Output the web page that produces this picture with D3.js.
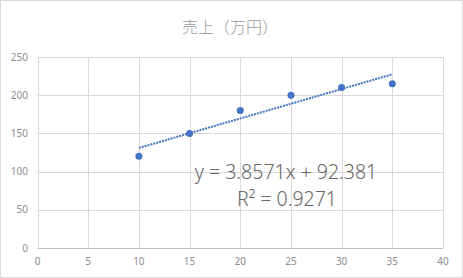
<!DOCTYPE html>
<html>
<head>
<meta charset="utf-8">
<script src="https://cdn.jsdelivr.net/npm/d3@7"></script>
<style>
  body { margin: 0; background: #fff; }
  text { font-family: "Noto Sans", "Noto Sans CJK JP", sans-serif; }
</style>
</head>
<body>
<div id="chart"></div>
<script>
// データ
const xValues = [10, 15, 20, 25, 30, 35];
const yValues = [120, 150, 180, 200, 210, 215];
const xTicks = [0, 5, 10, 15, 20, 25, 30, 35, 40];
const yTicks = [0, 50, 100, 150, 200, 250];
const slope = 3.8571, intercept = 92.381;
const titleText = "売上（万円）";
const eqText = "y = 3.8571x + 92.381";
const r2Text = "R² = 0.9271";

const width = 463, height = 278;
const plotLeft = 37.5, plotRight = 443, plotTop = 57, plotBottom = 248;

const svg = d3.select("#chart").append("svg")
    .attr("width", width)
    .attr("height", height);

// 枠
svg.append("rect")
    .attr("x", 0.5).attr("y", 0.5)
    .attr("width", width - 1).attr("height", height - 1)
    .attr("fill", "#fff").attr("stroke", "#d9d9d9");

const x = d3.scaleLinear().domain([0, 40]).range([plotLeft, plotRight]);
const y = d3.scaleLinear().domain([0, 250]).range([plotBottom, plotTop]);

// グリッド
svg.append("g").selectAll("line").data(yTicks.slice(1)).enter().append("line")
    .attr("x1", plotLeft).attr("x2", plotRight)
    .attr("y1", d => Math.round(y(d)) + 0.5).attr("y2", d => Math.round(y(d)) + 0.5)
    .attr("stroke", "#d9d9d9");
svg.append("g").selectAll("line").data(xTicks).enter().append("line")
    .attr("y1", plotTop).attr("y2", plotBottom)
    .attr("x1", d => Math.round(x(d)) + 0.5).attr("x2", d => Math.round(x(d)) + 0.5)
    .attr("stroke", "#d9d9d9");
// 横軸
svg.append("line")
    .attr("x1", plotLeft).attr("x2", plotRight)
    .attr("y1", Math.round(y(0)) + 0.5).attr("y2", Math.round(y(0)) + 0.5)
    .attr("stroke", "#bfbfbf");

// 目盛りラベル
svg.append("g").selectAll("text").data(yTicks).enter().append("text")
    .attr("x", 28).attr("y", d => y(d) + 3.5)
    .attr("text-anchor", "end")
    .attr("font-size", 10).attr("fill", "#8c8c8c")
    .text(d => d);
svg.append("g").selectAll("text").data(xTicks).enter().append("text")
    .attr("x", d => x(d)).attr("y", 265)
    .attr("text-anchor", "middle")
    .attr("font-size", 10).attr("fill", "#8c8c8c")
    .text(d => d);

// タイトル
svg.append("text")
    .attr("x", 230).attr("y", 33)
    .attr("text-anchor", "middle")
    .attr("font-size", 16).attr("fill", "#999")
    .style("font-family", "'Noto Sans CJK JP', sans-serif")
    .style("font-weight", 300)
    .text(titleText);

// 近似曲線
const tx = d3.extent(xValues);
svg.append("line")
    .attr("x1", x(tx[0])).attr("y1", y(slope * tx[0] + intercept))
    .attr("x2", x(tx[1])).attr("y2", y(slope * tx[1] + intercept))
    .attr("stroke", "#4472c4").attr("stroke-width", 2)
    .attr("stroke-dasharray", "2,1");

// 点
svg.append("g").selectAll("circle").data(xValues).enter().append("circle")
    .attr("cx", d => x(d))
    .attr("cy", (d, i) => y(yValues[i]))
    .attr("r", 3.5)
    .attr("fill", "#4472c4");

// 数式
svg.append("text")
    .attr("x", 286).attr("y", 179)
    .attr("text-anchor", "middle")
    .attr("font-size", 19.5).attr("fill", "#666")
    .style("font-weight", 300)
    .text(eqText);
svg.append("text")
    .attr("x", 287).attr("y", 206)
    .attr("text-anchor", "middle")
    .attr("font-size", 19.5).attr("fill", "#666")
    .style("font-weight", 300)
    .text(r2Text);
</script>
</body>
</html>
